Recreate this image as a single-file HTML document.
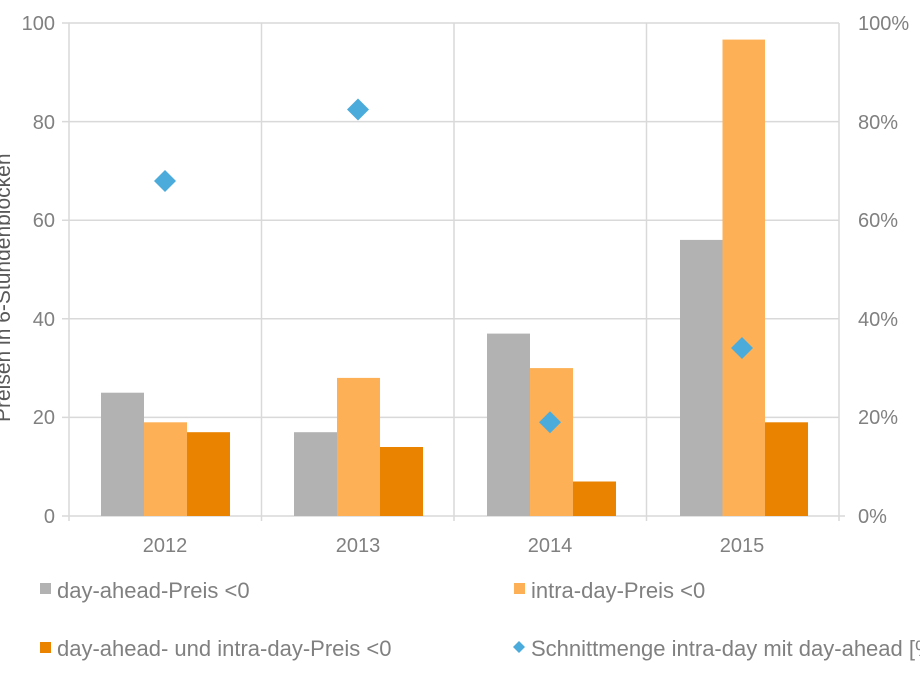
<!DOCTYPE html>
<html><head><meta charset="utf-8"><style>
html,body{margin:0;padding:0;background:#fff;}
svg{display:block;font-family:"Liberation Sans",Arial,sans-serif;}
</style></head><body>
<svg width="920" height="690" viewBox="0 0 920 690" xmlns="http://www.w3.org/2000/svg">
<g stroke="#d9d9d9" stroke-width="1.5" fill="none">
<line x1="62" y1="23" x2="839" y2="23"/>
<line x1="62" y1="121.6" x2="839" y2="121.6"/>
<line x1="62" y1="220.2" x2="839" y2="220.2"/>
<line x1="62" y1="318.8" x2="839" y2="318.8"/>
<line x1="62" y1="417.4" x2="839" y2="417.4"/>
<line x1="62" y1="516" x2="845" y2="516"/>
<line x1="69" y1="23" x2="69" y2="521"/>
<line x1="261.5" y1="23" x2="261.5" y2="521"/>
<line x1="454" y1="23" x2="454" y2="521"/>
<line x1="646.5" y1="23" x2="646.5" y2="521"/>
<line x1="839" y1="23" x2="839" y2="521"/>
</g>
<g>
<rect x="101" y="392.7" width="43" height="123.3" fill="#b2b2b2"/>
<rect x="144" y="422.3" width="43" height="93.7" fill="#fdb055"/>
<rect x="187" y="432.2" width="43" height="83.8" fill="#e98300"/>
<rect x="294" y="432.2" width="43" height="83.8" fill="#b2b2b2"/>
<rect x="337" y="377.9" width="43" height="138.1" fill="#fdb055"/>
<rect x="380" y="447" width="43" height="69" fill="#e98300"/>
<rect x="487" y="333.6" width="43" height="182.4" fill="#b2b2b2"/>
<rect x="530" y="368.1" width="43" height="147.9" fill="#fdb055"/>
<rect x="573" y="481.5" width="43" height="34.5" fill="#e98300"/>
<rect x="680" y="239.9" width="42.5" height="276.1" fill="#b2b2b2"/>
<rect x="722.5" y="39.6" width="42.5" height="476.4" fill="#fdb055"/>
<rect x="765" y="422.3" width="43" height="93.7" fill="#e98300"/>
</g>
<g fill="#4bacdc">
<polygon points="165,170 176,181 165,192 154,181"/>
<polygon points="358,98.5 369,109.5 358,120.5 347,109.5"/>
<polygon points="550,411.3 561,422.3 550,433.3 539,422.3"/>
<polygon points="742,337 753,348 742,359 731,348"/>
</g>
<g fill="#808080" font-size="20">
<g text-anchor="end">
<text x="55" y="30">100</text>
<text x="55" y="129">80</text>
<text x="55" y="227">60</text>
<text x="55" y="326">40</text>
<text x="55" y="424">20</text>
<text x="55" y="523">0</text>
</g>
<text x="858" y="30">100%</text>
<text x="858" y="129">80%</text>
<text x="858" y="227">60%</text>
<text x="858" y="326">40%</text>
<text x="858" y="424">20%</text>
<text x="858" y="523">0%</text>
<g text-anchor="middle">
<text x="165" y="552">2012</text>
<text x="358" y="552">2013</text>
<text x="550" y="552">2014</text>
<text x="742" y="552">2015</text>
</g>
</g>
<text transform="translate(10,422) rotate(-90)" fill="#595959" font-size="21">Preisen in 6-Stundenblöcken</text>
<g font-size="22" fill="#808080">
<rect x="40" y="583" width="11" height="11" fill="#b2b2b2"/>
<text x="57" y="598">day-ahead-Preis &lt;0</text>
<rect x="514" y="583" width="11" height="11" fill="#fdb055"/>
<text x="531" y="598">intra-day-Preis &lt;0</text>
<rect x="40" y="642" width="11" height="11" fill="#e98300"/>
<text x="57" y="656">day-ahead- und intra-day-Preis &lt;0</text>
<polygon points="519,641 525,647 519,653 513,647" fill="#4bacdc"/>
<text x="531" y="656">Schnittmenge intra-day mit day-ahead [%]</text>
</g>
</svg>
</body></html>
